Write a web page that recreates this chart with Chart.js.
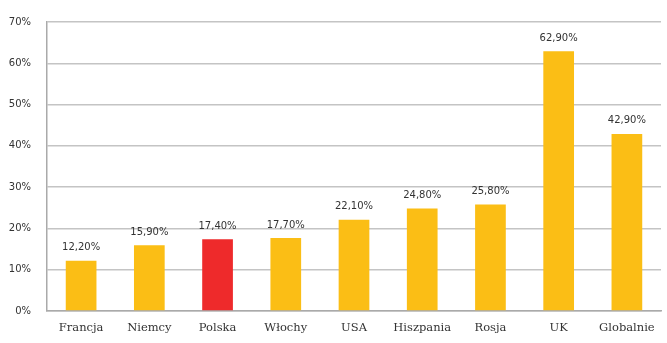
<!DOCTYPE html>
<html>
<head>
<meta charset="utf-8">
<script src="https://cdn.jsdelivr.net/npm/chart.js@4/dist/chart.umd.min.js"></script>
<style>
html,body{margin:0;padding:0;background:#fff;}
#wrap{width:667px;height:343px;position:relative;}
</style>
</head>
<body>
<div id="wrap"><canvas id="c" width="667" height="343"></canvas></div>
<script>
const categories = ["Francja","Niemcy","Polska","Włochy","USA","Hiszpania","Rosja","UK","Globalnie"];
const values = [12.2, 15.9, 17.4, 17.7, 22.1, 24.8, 25.8, 62.9, 42.9];
const highlight = "Polska";
const yTicks = [0,10,20,30,40,50,60,70];

const YELLOW = "#FBBE15";
const RED = "#EE2A2B";

const labelPlugin = {
  id: 'valueLabels',
  afterDatasetsDraw(chart){
    const ctx = chart.ctx;
    const meta = chart.getDatasetMeta(0);
    ctx.save();
    ctx.font = "10px 'DejaVu Sans'";
    ctx.fillStyle = "#333";
    ctx.textAlign = "center";
    ctx.textBaseline = "middle";
    meta.data.forEach((bar,i)=>{
      const txt = values[i].toFixed(2).replace('.',',') + '%';
      ctx.fillText(txt, bar.x, bar.y - 13);
    });
    ctx.restore();
  }
};

new Chart(document.getElementById('c'), {
  type: 'bar',
  data: {
    labels: categories,
    datasets: [{
      data: values,
      backgroundColor: categories.map(c => c === highlight ? RED : YELLOW),
      categoryPercentage: 0.9,
      barPercentage: 0.5
    }]
  },
  options: {
    responsive: false,
    animation: false,
    layout: { padding: { left: 0, right: 6, top: 16, bottom: 0 } },
    plugins: { legend: { display: false }, tooltip: { enabled: false } },
    scales: {
      x: {
        grid: { display: false, drawTicks: false },
        border: { color: "#aaa", width: 1.5 },
        ticks: { padding: 10, color: "#333", font: { family: "DejaVu Serif", size: 11.5 } },
        afterFit(axis){ axis.height = 32; }
      },
      y: {
        min: 0, max: 70,
        afterBuildTicks(axis){ axis.ticks = yTicks.map(v=>({value:v})); },
        grid: { color: "#c4c4c4", lineWidth: 1.5, drawTicks: false },
        border: { color: "#aaa", width: 1.5 },
        ticks: { padding: 16, color: "#333", font: { family: "DejaVu Sans", size: 10 }, callback: v => v + '%' },
        afterFit(axis){ axis.width = 47; }
      }
    }
  },
  plugins: [labelPlugin]
});
</script>
</body>
</html>
